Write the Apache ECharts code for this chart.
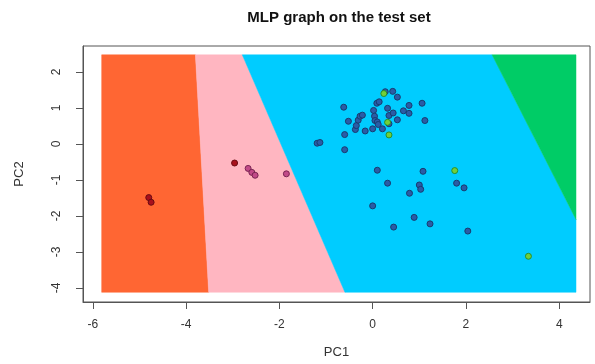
<!DOCTYPE html>
<html>
<head>
<meta charset="utf-8">
<script src="https://cdn.jsdelivr.net/npm/echarts@6/dist/echarts.min.js"></script>
<style>
  html, body { margin: 0; padding: 0; background: #ffffff; }
  #chart { width: 595px; height: 364px; }
</style>
</head>
<body>
<div id="chart"></div>
<script>
// Tick values on both principal-component axes
const pc1Ticks = [-6, -4, -2, 0, 2, 4];
const pc2Ticks = [-4, -3, -2, -1, 0, 1, 2];

// Test-set scores (PC1, PC2), grouped by class
const class1Points = [[-4.80, -1.49], [-4.75, -1.62], [-2.96, -0.53]];
const class2Points = [[-2.67, -0.68], [-2.59, -0.79], [-2.52, -0.87], [-1.85, -0.83]];
const class3Points = [
  [-1.19, 0.02], [-1.13, 0.04], [-0.60, -0.16], [-0.62, 1.02], [-0.60, 0.26],
  [-0.52, 0.63], [-0.37, 0.40], [-0.35, 0.51], [-0.31, 0.66], [-0.27, 0.77],
  [-0.22, 0.80], [-0.16, 0.36], [0.00, 0.42], [0.02, 0.93], [0.04, 0.77],
  [0.05, 0.65], [0.10, 0.61], [0.12, 0.54], [0.09, 1.13], [0.14, 1.17],
  [0.21, 0.42], [0.27, 1.45], [0.32, 0.99], [0.35, 0.79], [0.35, 0.56],
  [0.43, 1.46], [0.44, 0.86], [0.53, 1.30], [0.53, 0.67], [0.66, 0.92],
  [0.78, 1.07], [0.78, 0.85], [1.06, 1.13], [1.12, 0.65],
  [0.10, -0.73], [0.32, -1.09], [0.00, -1.72], [1.08, -0.76], [1.00, -1.14],
  [1.03, -1.26], [0.79, -1.37], [1.80, -1.09], [1.96, -1.22], [0.89, -2.04],
  [1.23, -2.22], [0.45, -2.31], [2.04, -2.42]
];
const class4Points = [[0.24, 1.40], [0.32, 0.60], [0.35, 0.25], [1.76, -0.74], [3.34, -3.12]];

// Decision regions of the MLP over the PC1/PC2 grid
const region1 = [[-5.81, 2.475], [-3.80, 2.475], [-3.515, -4.12], [-5.81, -4.12]];
const region2 = [[-3.80, 2.475], [-2.795, 2.475], [-0.594, -4.12], [-3.515, -4.12]];
const region3 = [[-2.795, 2.475], [2.56, 2.475], [4.36, -2.10], [4.36, -4.12], [-0.594, -4.12]];
const region4 = [[2.56, 2.475], [4.36, 2.475], [4.36, -2.10]];

// Plot window of the axes
const pc1Range = [-6.21, 4.66];
const pc2Range = [-4.39, 2.72];

const regions = [region1, region2, region3, region4];
const regionColors = ['#ff6633', '#ffb6c1', '#00ccff', '#00cc66'];

const chart = echarts.init(document.getElementById('chart'), null, { renderer: 'canvas' });

const axisText = { color: '#333333', fontFamily: 'Liberation Sans, Arial, sans-serif', fontSize: 12 };

function pointSeries(name, data, fill, border) {
  return {
    name: name,
    type: 'scatter',
    data: data,
    symbol: 'circle',
    symbolSize: 6,
    itemStyle: { color: fill, borderColor: border, borderWidth: 1, opacity: 1 },
    emphasis: { disabled: true },
    z: 5
  };
}

chart.setOption({
  animation: false,
  backgroundColor: '#ffffff',
  title: {
    text: 'MLP graph on the test set',
    left: 339,
    top: 10,
    padding: 0,
    textAlign: 'center',
    textStyle: { fontFamily: 'Liberation Sans, Arial, sans-serif', fontWeight: 'bold', fontSize: 15, color: '#111111' }
  },
  grid: {
    left: 83, right: 5, top: 46, bottom: 59,
    show: true, borderColor: '#555555', borderWidth: 1, backgroundColor: 'transparent'
  },
  xAxis: {
    type: 'value',
    min: pc1Range[0], max: pc1Range[1],
    name: 'PC1', nameLocation: 'middle', nameGap: 44,
    nameTextStyle: Object.assign({}, axisText, { fontSize: 13 }),
    axisLine: { show: true, onZero: false, lineStyle: { color: '#555555' } },
    axisTick: { show: true, length: 7, customValues: pc1Ticks, lineStyle: { color: '#555555' } },
    axisLabel: Object.assign({ margin: 17, customValues: pc1Ticks }, axisText),
    splitLine: { show: false }
  },
  yAxis: {
    type: 'value',
    min: pc2Range[0], max: pc2Range[1],
    name: 'PC2', nameLocation: 'middle', nameGap: 57, nameRotate: 90,
    nameTextStyle: Object.assign({}, axisText, { fontSize: 13 }),
    axisLine: { show: true, onZero: false, lineStyle: { color: '#555555' } },
    axisTick: { show: true, length: 7, customValues: pc2Ticks, lineStyle: { color: '#555555' } },
    axisLabel: Object.assign({ margin: 20, rotate: 90, customValues: pc2Ticks }, axisText),
    splitLine: { show: false }
  },
  series: [
    {
      type: 'custom',
      name: 'regions',
      data: regions.map(function (r, i) { return i; }),
      renderItem: function (params, api) {
        const idx = params.dataIndex;
        const pts = regions[idx].map(function (p) { return api.coord(p); });
        return {
          type: 'polygon',
          shape: { points: pts },
          style: { fill: regionColors[idx], stroke: regionColors[idx], lineWidth: 0.5 }
        };
      },
      silent: true,
      z: 1
    },
    pointSeries('class3', class3Points, '#2a5ca6', '#183c70'),
    pointSeries('class1', class1Points, '#a8101c', '#6a0a12'),
    pointSeries('class2', class2Points, '#c24a88', '#7a2452'),
    pointSeries('class4', class4Points, '#72cf3a', '#2a8f2a')
  ]
});
</script>
</body>
</html>
